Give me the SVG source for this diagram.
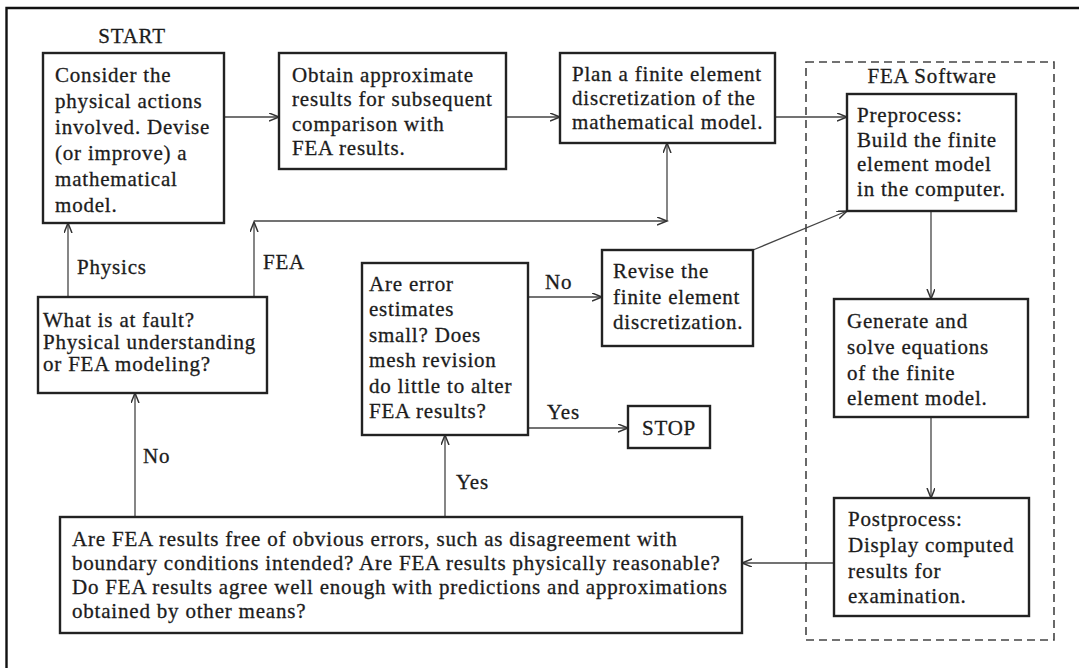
<svg xmlns="http://www.w3.org/2000/svg" width="1079" height="668" viewBox="0 0 1079 668">
<style>
  text { font-family: "Liberation Serif", "Times New Roman", serif; font-size: 21px; letter-spacing: 0.8px; fill: #1c1c1c; stroke: #1c1c1c; stroke-width: 0.3; }
  .box { fill: #ffffff; stroke: #222; stroke-width: 2.4; }
  .con { fill: none; stroke: #444; stroke-width: 1.3; }
  .arr { marker-end: url(#ah); }
  .dash { fill: none; stroke: #444; stroke-width: 1.6; stroke-dasharray: 8 5; }
  .frame { fill: none; stroke: #111; stroke-width: 2.4; }
</style>
<defs>
  <marker id="ah" markerUnits="userSpaceOnUse" markerWidth="12" markerHeight="10" refX="10" refY="4" orient="auto">
    <path d="M0,0 L10,4 L0,8" fill="none" stroke="#333" stroke-width="1.5"/>
  </marker>
</defs>
<rect x="0" y="0" width="1079" height="668" fill="#ffffff"/>
<path class="frame" d="M6.5,668 V8 H1079"/>

<g id="fea-software">
  <rect class="dash" x="806" y="62" width="248" height="578"/>
  <text x="932" y="83" text-anchor="middle">FEA Software</text>
</g>

<g id="connectors">
  <path class="con arr" d="M224,117 H279"/>
  <path class="con arr" d="M506,117 H560"/>
  <path class="con arr" d="M775,117 H847"/>
  <path class="con arr" d="M931,211 V299"/>
  <path class="con arr" d="M931,417 V498"/>
  <path class="con arr" d="M834,563 H742"/>
  <path class="con arr" d="M445,517 V435"/>
  <path class="con arr" d="M135,517 V393"/>
  <path class="con arr" d="M68,297 V223"/>
  <path class="con arr" d="M254,297 V222"/>
  <path class="con arr" d="M254,221 H667"/>
  <path class="con arr" d="M667,221 V143"/>
  <path class="con arr" d="M528,297 H602"/>
  <path class="con arr" d="M528,428 H628"/>
  <path class="con arr" d="M753,250 L847,211"/>
  <text x="77" y="274">Physics</text>
  <text x="263" y="269">FEA</text>
  <text x="545" y="289">No</text>
  <text x="547" y="419">Yes</text>
  <text x="456" y="489">Yes</text>
  <text x="143" y="463">No</text>
</g>

<g id="start">
  <text x="132" y="43" text-anchor="middle">START</text>
  <rect class="box" x="43" y="53" width="181" height="170"/>
  <text x="55" y="82">Consider the</text>
  <text x="55" y="108">physical actions</text>
  <text x="55" y="134">involved. Devise</text>
  <text x="55" y="160">(or improve) a</text>
  <text x="55" y="186">mathematical</text>
  <text x="55" y="212">model.</text>
</g>

<g id="approx">
  <rect class="box" x="279" y="53" width="227" height="116"/>
  <text x="292" y="82">Obtain approximate</text>
  <text x="292" y="106">results for subsequent</text>
  <text x="292" y="131">comparison with</text>
  <text x="292" y="155">FEA results.</text>
</g>

<g id="plan">
  <rect class="box" x="560" y="53" width="215" height="90"/>
  <text x="572" y="81">Plan a finite element</text>
  <text x="572" y="105">discretization of the</text>
  <text x="572" y="129">mathematical model.</text>
</g>

<g id="preprocess">
  <rect class="box" x="847" y="94" width="169" height="117"/>
  <text x="857" y="122">Preprocess:</text>
  <text x="857" y="147">Build the finite</text>
  <text x="857" y="171">element model</text>
  <text x="857" y="196">in the computer.</text>
</g>

<g id="fault">
  <rect class="box" x="38" y="297" width="229" height="96"/>
  <text x="43" y="327">What is at fault?</text>
  <text x="43" y="349">Physical understanding</text>
  <text x="43" y="371">or FEA modeling?</text>
</g>

<g id="error">
  <rect class="box" x="362" y="263" width="166" height="172"/>
  <text x="369" y="291">Are error</text>
  <text x="369" y="316">estimates</text>
  <text x="369" y="342">small? Does</text>
  <text x="369" y="367">mesh revision</text>
  <text x="369" y="393">do little to alter</text>
  <text x="369" y="418">FEA results?</text>
</g>

<g id="revise">
  <rect class="box" x="602" y="250" width="151" height="96"/>
  <text x="613" y="278">Revise the</text>
  <text x="613" y="304">finite element</text>
  <text x="613" y="329">discretization.</text>
</g>

<g id="stop">
  <rect class="box" x="628" y="406" width="82" height="42"/>
  <text x="669" y="435" text-anchor="middle">STOP</text>
</g>

<g id="generate">
  <rect class="box" x="834" y="299" width="194" height="118"/>
  <text x="847" y="328">Generate and</text>
  <text x="847" y="354">solve equations</text>
  <text x="847" y="380">of the finite</text>
  <text x="847" y="405">element model.</text>
</g>

<g id="postprocess">
  <rect class="box" x="834" y="498" width="195" height="118"/>
  <text x="848" y="526">Postprocess:</text>
  <text x="848" y="552">Display computed</text>
  <text x="848" y="578">results for</text>
  <text x="848" y="603">examination.</text>
</g>

<g id="check">
  <rect class="box" x="60" y="517" width="682" height="116"/>
  <text x="72" y="546">Are FEA results free of obvious errors, such as disagreement with</text>
  <text x="72" y="570">boundary conditions intended? Are FEA results physically reasonable?</text>
  <text x="72" y="594">Do FEA results agree well enough with predictions and approximations</text>
  <text x="72" y="618">obtained by other means?</text>
</g>
</svg>
